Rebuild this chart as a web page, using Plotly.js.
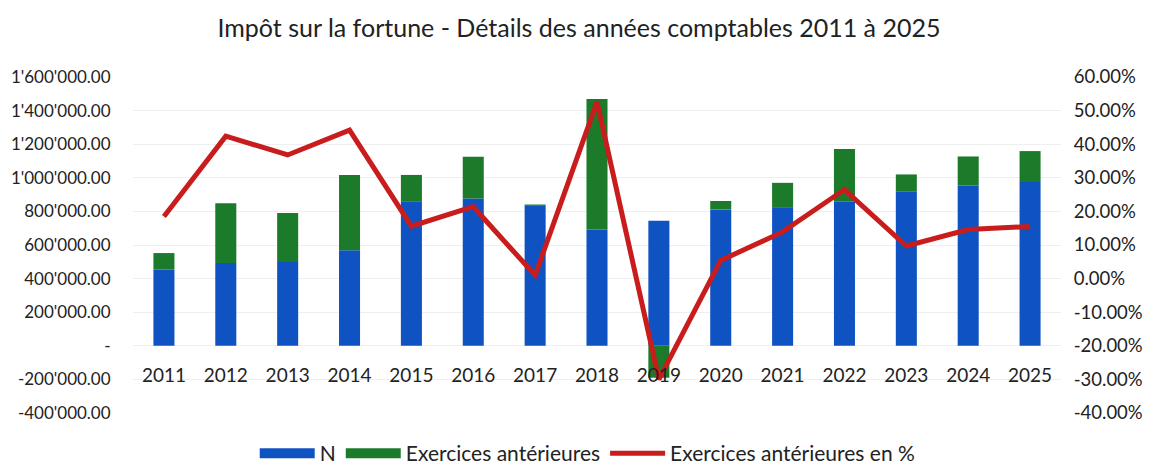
<!DOCTYPE html>
<html>
<head>
<meta charset="utf-8">
<script src="https://cdn.plot.ly/plotly-3.0.1.min.js"></script>
<style>html,body{margin:0;padding:0;background:#fff;}#chart{width:1151px;height:468px;}</style>
</head>
<body>
<div id="chart"></div>
<script>
const years = ['2011','2012','2013','2014','2015','2016','2017','2018','2019','2020','2021','2022','2023','2024','2025'];
const valuesN = [453000, 493000, 499000, 569000, 857000, 877000, 833000, 693000, 745000, 812000, 821000, 858000, 920000, 954000, 975000];
const valuesPrev = [99000, 355000, 292000, 448000, 160000, 249000, 8000, 776000, -190000, 50000, 149000, 313000, 100000, 173000, 184000];
const pctPrev = [0.185, 0.424, 0.368, 0.442, 0.156, 0.214, 0.01, 0.526, -0.30, 0.054, 0.139, 0.265, 0.097, 0.146, 0.155];

const leftTickVals = [-400000, -200000, 0, 200000, 400000, 600000, 800000, 1000000, 1200000, 1400000, 1600000];
const leftTickText = ["-400'000.00", "-200'000.00", "-", "200'000.00", "400'000.00", "600'000.00", "800'000.00", "1'000'000.00", "1'200'000.00", "1'400'000.00", "1'600'000.00"];
const rightTickVals = [-0.4, -0.3, -0.2, -0.1, 0, 0.1, 0.2, 0.3, 0.4, 0.5, 0.6];
const rightTickText = ['-40.00%', '-30.00%', '-20.00%', '-10.00%', '0.00%', '10.00%', '20.00%', '30.00%', '40.00%', '50.00%', '60.00%'];

const FONT = 'Lato, "Open Sans", sans-serif';
const BLUE = '#0f53c2', GREEN = '#1b7b2b', RED = '#c91c1c';

const traces = [
  {type: 'bar', name: 'N', x: years, y: valuesN, marker: {color: BLUE}, yaxis: 'y', showlegend: false, legendgroup: 'n'},
  {type: 'bar', name: 'Exercices antérieures', x: years, y: valuesPrev, marker: {color: GREEN}, yaxis: 'y', showlegend: false, legendgroup: 'p'},
  {type: 'scatter', mode: 'lines', name: 'Exercices antérieures en %', x: years, y: pctPrev, yaxis: 'y2',
   line: {color: RED, width: 5}, showlegend: false, legendgroup: 'pct'},
  // legend entries (swatches styled like the reference legend)
  {type: 'scatter', mode: 'lines', name: 'N', x: [null], y: [null], line: {color: BLUE, width: 12}, legendgroup: 'n'},
  {type: 'scatter', mode: 'lines', name: 'Exercices antérieures', x: [null], y: [null], line: {color: GREEN, width: 12}, legendgroup: 'p'},
  {type: 'scatter', mode: 'lines', name: 'Exercices antérieures en %', x: [null], y: [null], yaxis: 'y2', line: {color: RED, width: 5}, legendgroup: 'pct'}
];

const layout = {
  width: 1151, height: 468,
  paper_bgcolor: '#ffffff', plot_bgcolor: '#ffffff',
  margin: {l: 133, r: 90, t: 77, b: 55},
  font: {family: FONT, color: '#222222', size: 17},
  title: {text: 'Impôt sur la fortune - Détails des années comptables 2011 à 2025',
          font: {family: FONT, size: 25, color: '#222222'},
          x: 0.503, xref: 'container', xanchor: 'center', y: 0.94, yref: 'container', yanchor: 'middle'},
  barmode: 'relative',
  bargap: 0.66,
  showlegend: true,
  legend: {orientation: 'h', x: 0.49, xanchor: 'center', y: 0.031, yref: 'container', yanchor: 'middle',
           font: {family: FONT, size: 21, color: '#222222'}, itemwidth: 55, traceorder: 'normal',
           itemclick: false, itemdoubleclick: false},
  xaxis: {type: 'category', anchor: 'free', position: 0.2, showgrid: false, zeroline: false, showline: false,
          ticks: 'outside', ticklen: 12, tickcolor: 'rgba(0,0,0,0)',
          tickfont: {family: FONT, size: 19, color: '#222222'}},
  yaxis: {range: [-400000, 1600000], tickvals: leftTickVals, ticktext: leftTickText,
          showgrid: true, gridcolor: '#efefef', gridwidth: 1, zeroline: false, showline: false,
          ticks: 'outside', ticklen: 18, tickcolor: 'rgba(0,0,0,0)',
          tickfont: {family: FONT, size: 17, color: '#222222'}},
  yaxis2: {range: [-0.4, 0.6], tickvals: rightTickVals, ticktext: rightTickText, overlaying: 'y', side: 'right',
           showgrid: false, zeroline: false, showline: false,
           ticks: 'outside', ticklen: 8, tickcolor: 'rgba(0,0,0,0)',
           tickfont: {family: FONT, size: 18.5, color: '#222222'}}
};

Plotly.newPlot('chart', traces, layout, {displayModeBar: false, staticPlot: true});
</script>
</body>
</html>
